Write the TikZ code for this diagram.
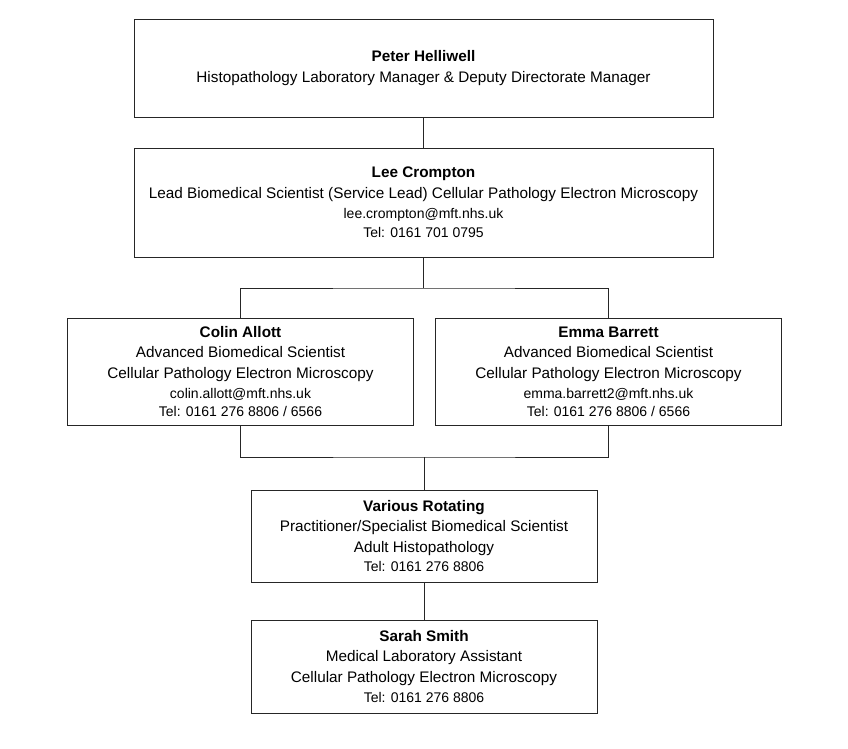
\documentclass[tikz,border=0pt]{standalone}
\usepackage{fontspec}
\setmainfont{Liberation Sans}
\begin{document}
\begin{tikzpicture}[x=1pt,y=-1pt,
  box/.style={draw=black!85, line width=0.9pt, inner sep=0pt, align=center,
    font=\fontsize{15.3}{20.5}\selectfont, text=black},
  conn/.style={draw=black!85, line width=0.9pt}]
\useasboundingbox (0,0) rectangle (848,749);
\newcommand{\sm}[1]{{\fontsize{14}{19}\selectfont #1}}
\node[box, minimum width=579, minimum height=98] (peter) at (423.5,68)
  {\textbf{Peter Helliwell}\\Histopathology Laboratory Manager \& Deputy Directorate Manager};
\node[box, minimum width=579, minimum height=109] (lee) at (423.5,202.5)
  {\textbf{Lee Crompton}\\Lead Biomedical Scientist (Service Lead) Cellular Pathology Electron Microscopy\\\sm{lee.crompton@mft.nhs.uk}\\[-1.5pt]\sm{Tel: 0161 701 0795}};
\node[box, minimum width=346, minimum height=107] (colin) at (240.5,371.5)
  {\textbf{Colin Allott}\\Advanced Biomedical Scientist\\Cellular Pathology Electron Microscopy\\\sm{colin.allott@mft.nhs.uk}\\[-3pt]\sm{Tel: 0161 276 8806 / 6566}};
\node[box, minimum width=346, minimum height=107] (emma) at (608.5,371.5)
  {\textbf{Emma Barrett}\\Advanced Biomedical Scientist\\Cellular Pathology Electron Microscopy\\\sm{emma.barrett2@mft.nhs.uk}\\[-3pt]\sm{Tel: 0161 276 8806 / 6566}};
\node[box, minimum width=346, minimum height=92] (various) at (424,536)
  {\textbf{Various Rotating}\\Practitioner/Specialist Biomedical Scientist\\Adult Histopathology\\[-1pt]\sm{Tel: 0161 276 8806}};
\node[box, minimum width=346, minimum height=93] (sarah) at (424,666.5)
  {\textbf{Sarah Smith}\\Medical Laboratory Assistant\\Cellular Pathology Electron Microscopy\\\sm{Tel: 0161 276 8806}};
\coordinate (j1) at (423.5,288);
\coordinate (j2) at (424,457);
\draw[conn] (peter.south) -- (lee.north);
\draw[conn] (lee.south) -- (j1);
\draw[conn] (colin.north) |- (j1) -| (emma.north);
\draw[conn] (colin.south) |- (j2) -| (emma.south);
\draw[conn] (j2) -- (various.north);
\draw[conn] (various.south) -- (sarah.north);
\end{tikzpicture}
\end{document}
